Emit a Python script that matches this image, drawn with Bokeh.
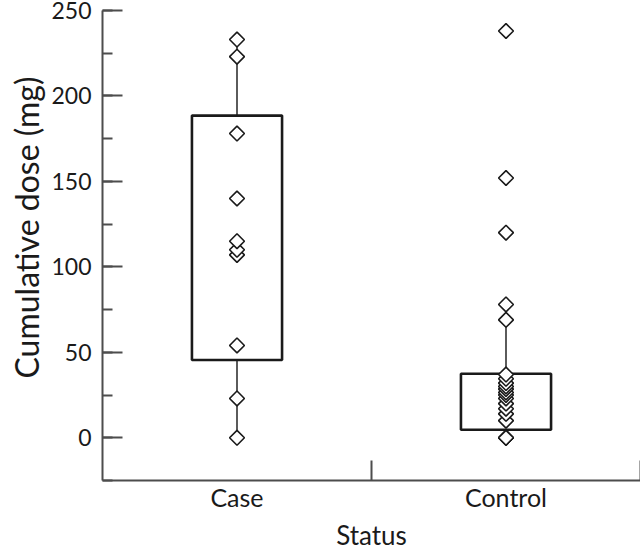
import math
from bokeh.plotting import figure
from bokeh.models import (Range1d, LinearAxis, FixedTicker, SingleIntervalTicker,
                          ColumnDataSource, Title)
from bokeh.embed import file_html
from bokeh.resources import INLINE

# ---- data ----
categories = ["Case", "Control"]
case_doses = [0, 23, 54, 107, 110, 115, 140, 178, 223, 233]
control_doses = [0, 0, 0, 10, 14, 17, 20, 23, 25, 26.5, 28.5, 30, 32, 34.5,
                 37, 69, 78, 120, 152, 238]
q1 = [45.5, 4.7]
median = [112.5, 25]
q3 = [188.5, 37.5]
whisker_low = [0, 0]
whisker_high = [233, 78]

FONT = "Lato"
TXT = "#1a1a1a"
AX = "#4d4d4d"

p = figure(frame_width=538, frame_height=470, output_backend="svg",
           toolbar_location=None, x_axis_type=None, y_axis_type=None,
           x_range=Range1d(0, len(categories)), y_range=Range1d(-25, 250),
           min_border_left=102, min_border_right=0, min_border_top=10,
           min_border_bottom=0)
p.outline_line_color = None
p.xgrid.visible = False
p.ygrid.visible = False
p.background_fill_color = "white"
p.border_fill_color = "white"

# y axis
yax = LinearAxis(ticker=SingleIntervalTicker(interval=50, num_minor_ticks=2))
yax.axis_line_color = AX
yax.axis_line_width = 2
yax.major_tick_line_color = AX
yax.major_tick_line_width = 2
yax.major_tick_in = 20
yax.major_tick_out = 0
yax.minor_tick_line_color = AX
yax.minor_tick_line_width = 2
yax.minor_tick_in = 10
yax.minor_tick_out = 0
yax.major_label_text_font = FONT
yax.major_label_text_font_size = "23px"
yax.major_label_text_color = TXT
yax.major_label_standoff = 11
p.add_layout(yax, "left")

# y axis title, placed along the 0-250 span as in the reference
ytitle = Title(text="Cumulative dose (mg)", align="left", offset=102,
               text_font=FONT, text_font_size="32px", text_font_style="normal",
               text_color=TXT, standoff=6)
p.add_layout(ytitle, "left")

# x axis: line + boundary ticks
xpos = [i + 0.5 for i in range(len(categories))]
bounds = [i + 1 for i in range(len(categories))]
xax = LinearAxis(ticker=FixedTicker(ticks=bounds))
xax.axis_line_color = AX
xax.axis_line_width = 2
xax.major_tick_line_color = AX
xax.major_tick_line_width = 2
xax.major_tick_in = 20
xax.major_tick_out = 0
xax.minor_tick_line_color = None
xax.major_label_text_font_size = "0px"
xax.major_label_standoff = 0
xax.major_label_overrides = {b: "" for b in bounds}
p.add_layout(xax, "below")

# x axis: category labels
xlab = LinearAxis(ticker=FixedTicker(ticks=xpos))
xlab.major_label_overrides = {x: c for x, c in zip(xpos, categories)}
xlab.axis_line_color = None
xlab.major_tick_line_color = None
xlab.minor_tick_line_color = None
xlab.major_label_text_font = FONT
xlab.major_label_text_font_size = "25px"
xlab.major_label_text_color = TXT
xlab.major_label_standoff = -5
xlab.axis_label = "Status"
xlab.axis_label_text_font = FONT
xlab.axis_label_text_font_size = "26px"
xlab.axis_label_text_font_style = "normal"
xlab.axis_label_text_color = TXT
xlab.axis_label_standoff = 4
p.add_layout(xlab, "below")

# boxes
box_w = 0.335
cap_w = 0.095
box_src = ColumnDataSource(dict(x=xpos, q1=q1, q3=q3, med=median,
                                lo=whisker_low, hi=whisker_high))
p.segment(x0="x", y0="q3", x1="x", y1="hi", source=box_src,
          line_color="#333333", line_width=1.6)
p.segment(x0="x", y0="lo", x1="x", y1="q1", source=box_src,
          line_color="#333333", line_width=1.6)
p.vbar(x="x", bottom="q1", top="q3", width=box_w, source=box_src,
       fill_color=None, line_color="#1a1a1a", line_width=2.6)
p.rect(x="x", y="med", width=box_w, height=0, source=box_src,
       fill_color=None, line_color="#1a1a1a", line_width=2.6)
p.rect(x="x", y="hi", width=cap_w, height=0, source=box_src,
       fill_color=None, line_color="#333333", line_width=1.6)
p.rect(x="x", y="lo", width=cap_w, height=0, source=box_src,
       fill_color=None, line_color="#333333", line_width=1.6)

# points
pt_x, pt_y = [], []
for xp, vals in zip(xpos, [case_doses, control_doses]):
    for v in vals:
        pt_x.append(xp)
        pt_y.append(v)
p.scatter(pt_x, pt_y, marker="square", angle=math.pi / 4, size=10.5,
          fill_color="white", line_color="#1a1a1a", line_width=1.6)

open("out.html", "w").write(file_html(p, INLINE))
